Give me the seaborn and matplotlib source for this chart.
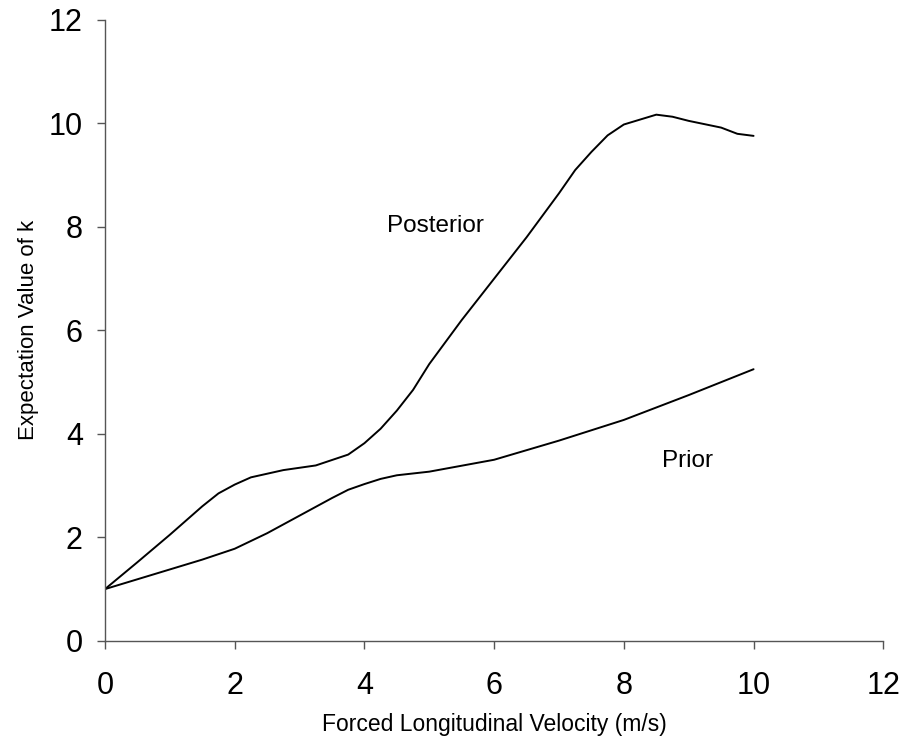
import numpy as np
import pandas as pd
import matplotlib
matplotlib.use("Agg")
import matplotlib.pyplot as plt
import seaborn as sns

post_x = [0, 0.5, 1, 1.5, 1.75, 2, 2.25, 2.75, 3.25, 3.75, 4, 4.25, 4.5, 4.75,
          5, 5.5, 6, 6.5, 7, 7.25, 7.5, 7.75, 8, 8.5, 8.75, 9, 9.5, 9.75, 10]
post_y = [1.0, 1.52, 2.05, 2.6, 2.85, 3.02, 3.16, 3.3, 3.39, 3.6, 3.82, 4.1, 4.45, 4.85,
          5.35, 6.2, 7.0, 7.8, 8.65, 9.1, 9.45, 9.77, 9.98, 10.17, 10.13, 10.05, 9.92, 9.8, 9.76]
prior_x = [0, 1.5, 2, 2.5, 3, 3.5, 3.75, 4, 4.25, 4.5, 5, 6, 7, 8, 9, 10]
prior_y = [1.0, 1.57, 1.78, 2.08, 2.42, 2.76, 2.92, 3.03, 3.13, 3.2, 3.27, 3.5, 3.87, 4.27, 4.75, 5.25]

df = pd.concat([
    pd.DataFrame({"v": post_x, "k": post_y, "curve": "Posterior"}),
    pd.DataFrame({"v": prior_x, "k": prior_y, "curve": "Prior"}),
])

sns.set_style("ticks")
plt.rcParams["font.family"] = ["Liberation Sans", "DejaVu Sans"]
plt.rcParams["text.color"] = "black"
plt.rcParams["axes.labelcolor"] = "black"

fig = plt.figure(figsize=(9.05, 7.4), dpi=100)
ax = fig.add_axes([0.116, 0.134, 0.86, 0.839])

sns.lineplot(data=df, x="v", y="k", units="curve", estimator=None, sort=False,
             color="black", linewidth=1.4, ax=ax, legend=False)

ax.set_xlim(0, 12)
ax.set_ylim(0, 12)
ax.set_xticks(range(0, 13, 2))
ax.set_yticks(range(0, 13, 2))
ax.tick_params(labelsize=22, length=6, width=1, color="#555555",
               labelcolor="black", direction="out")
ax.tick_params(axis="x", pad=16)
ax.tick_params(axis="y", pad=10)
for s in ["top", "right"]:
    ax.spines[s].set_visible(False)
for s in ["left", "bottom"]:
    ax.spines[s].set_color("#555555")
    ax.spines[s].set_linewidth(1)

ax.set_xlabel("Forced Longitudinal Velocity (m/s)", fontsize=16.5, labelpad=8)
ax.set_ylabel("Expectation Value of k", fontsize=16, labelpad=7)

ax.text(5.1, 7.9, "Posterior", fontsize=17.5, ha="center", va="baseline")
ax.text(8.98, 3.36, "Prior", fontsize=17.5, ha="center", va="baseline")

fig.savefig("out.png", dpi=100)
